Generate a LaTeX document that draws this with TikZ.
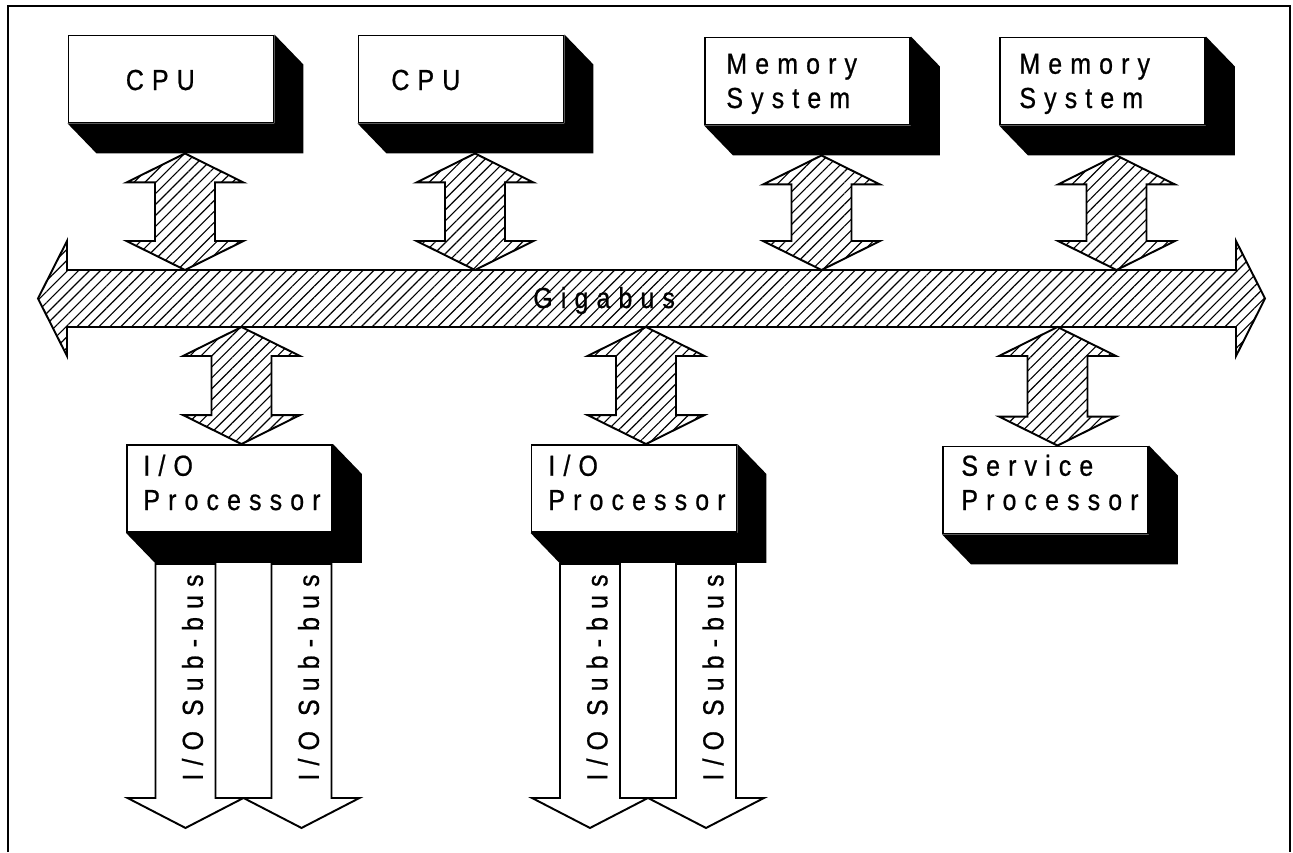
\documentclass[tikz,border=0pt]{standalone}
\usepackage{fontspec}
\newfontfamily\betu[LetterSpace=28,FakeStretch=0.86,FakeBold=0.7]{Liberation Sans}
\usetikzlibrary{calc,patterns.meta,backgrounds,positioning}
\tikzset{
  dob/.style={draw,fill=white,line width=1.1pt,inner sep=0pt,minimum width=4.1cm,minimum height=1.74cm},
  fel/.style={font=\betu\fontsize{16.5}{19.5}\selectfont,align=left,anchor=base west,inner sep=0pt},
  alfel/.style={font=\betu\fontsize{16.5}{18}\selectfont,rotate=90,inner sep=0pt},
  csik/.style={draw,line width=1.1pt,preaction={fill=white},pattern={Lines[angle=45,distance=4.4pt,line width=0.65pt]}},
  ures/.style={draw,fill=white,line width=1.1pt},
}
% black slab under and right of a box
\newcommand{\arny}[1]{\fill (#1.south west) -- ++(29,30) -- ($(#1.south east)+(29,30)$)
  -- ($(#1.north east)+(29,30)$) -- (#1.north east) -- (#1.south east) -- cycle;}
% hatched two-headed link, #1 upper tip, #2 lower tip
\newcommand{\ketiranyu}[2]{\path[csik] (#1) -- ($(#1)+(58.5,29)$) -- ($(#1)+(30,29)$)
  -- ($(#2)+(30,-29)$) -- ($(#2)+(58.5,-29)$) -- (#2) -- ($(#2)+(-58.5,-29)$)
  -- ($(#2)+(-30,-29)$) -- ($(#1)+(-30,29)$) -- ($(#1)+(-58.5,29)$) -- cycle;}
% hollow sub-bus arrow, #1 shaft top, #2 tip, #3 node name
\newcommand{\lefele}[3]{\path[ures] ($(#1)+(-30,0)$) -- ($(#2)+(-30,-30)$) -- ($(#2)+(-58,-30)$)
  -- (#2) -- ($(#2)+(58,-30)$) -- ($(#2)+(30,-30)$) -- ($(#1)+(30,0)$) -- cycle;
  \node[alfel] (#3) at ($(#1)!0.43!(#2)+(7,0)$) {I/O Sub-bus};}

\begin{document}
\begin{tikzpicture}[x=0.02cm,y=-0.02cm]
  \useasboundingbox (0,0) rectangle (1293,852);
  \draw[line width=1pt] (8,852) |- (1290,6) -- (1290,852);

  % boxes
  \node[dob] (cpuA) at (171,79) {};
  \node[dob] (cpuB) at (461,79) {};
  \node[dob] (memA) at (807.5,81) {};
  \node[dob] (memB) at (1102.5,81) {};
  \node[dob] (ioA) at (229.5,488.5) {};
  \node[dob] (ioB) at (634,488.5) {};
  \node[dob] (svc) at (1045.5,490) {};
  \begin{scope}[on background layer]
    \foreach \n in {cpuA,cpuB,memA,memB,ioA,ioB,svc} {\arny{\n}}
  \end{scope}
  \node[fel] (cpuA-t) at ($(cpuA.west)+(58,11)$) {CPU};
  \node[fel] (cpuB-t) at ($(cpuB.west)+(33.5,11)$) {CPU};
  \node[fel] (memA-t) at ($(memA.west)+(22,27)$) {Memory\\System};
  \node[fel] (memB-t) at ($(memB.west)+(20,27)$) {Memory\\System};
  \node[fel] (ioA-t) at ($(ioA.west)+(17,21.5)$) {I/O\\Processor};
  \node[fel] (ioB-t) at ($(ioB.west)+(17.5,21.5)$) {I/O\\Processor};
  \node[fel] (svc-t) at ($(svc.west)+(19,20)$) {Service\\Processor};

  % Gigabus
  \coordinate (busW) at (38,298.5);
  \coordinate (busE) at (1265,298.5);
  \coordinate (busT) at (0,270);
  \coordinate (busB) at (0,327);
  \path[csik] (busW) -- ($(busW)+(29,-57.5)$) -- ($(busW)+(29,-28.5)$) -- ($(busE)+(-29,-28.5)$)
    -- ($(busE)+(-29,-57.5)$) -- (busE) -- ($(busE)+(-29,57.5)$) -- ($(busE)+(-29,28.5)$)
    -- ($(busW)+(29,28.5)$) -- ($(busW)+(29,57.5)$) -- cycle;
  \node[fel] (gbus) at (533,308) {Gigabus};

  % links to the bus
  \foreach \n in {cpuA,cpuB,memA,memB} {
    \coordinate (\n-a) at ($(\n.south)+(14,30)$);
    \ketiranyu{\n-a}{\n-a |- busT}
  }
  \foreach \n in {ioA,ioB,svc} {
    \coordinate (\n-a) at ($(\n.north)+(12,0)$);
    \ketiranyu{\n-a |- busB}{\n-a}
  }

  % sub-buses
  \foreach \n in {ioA,ioB} {
    \coordinate (\n-f1) at ($(\n.south)+(-44,31)$);
    \coordinate (\n-v1) at ($(\n.south)+(-44,295)$);
    \coordinate (\n-f2) at ($(\n.south)+(72,31)$);
    \coordinate (\n-v2) at ($(\n.south)+(72,295)$);
    \lefele{\n-f1}{\n-v1}{\n-s1}
    \lefele{\n-f2}{\n-v2}{\n-s2}
  }
\end{tikzpicture}
\end{document}
